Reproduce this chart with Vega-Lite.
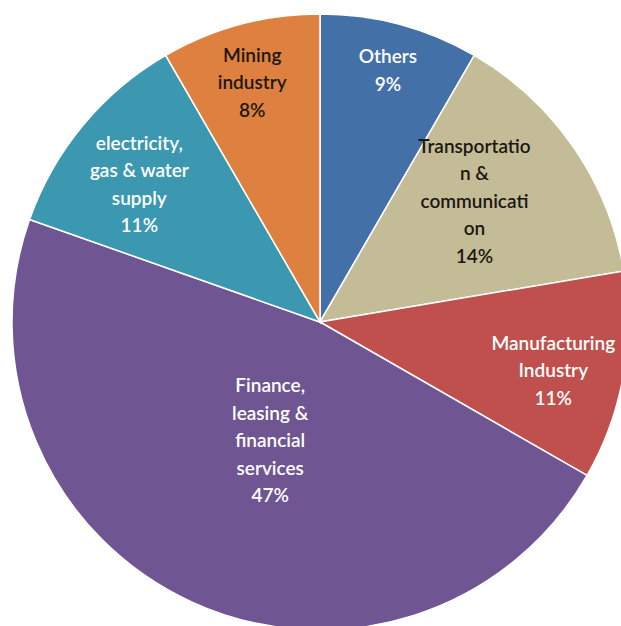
{
  "$schema": "https://vega.github.io/schema/vega-lite/v6.json",
  "width": 640,
  "height": 644,
  "autosize": {"type": "none"},
  "padding": 0,
  "background": "white",
  "view": {"stroke": null},
  "data": {
    "values": [
      {"order": 1, "category": "Others", "share": 8.35, "label": "Others\n9%"},
      {"order": 2, "category": "Transportation & communication", "share": 14.0, "label": "Transportatio\nn &\ncommunicati\non\n14%"},
      {"order": 3, "category": "Manufacturing Industry", "share": 10.95, "label": "Manufacturing\nIndustry\n11%"},
      {"order": 4, "category": "Finance, leasing & financial services", "share": 47.1, "label": "Finance,\nleasing &\nfinancial\nservices\n47%"},
      {"order": 5, "category": "electricity, gas & water supply", "share": 11.25, "label": "electricity,\ngas & water\nsupply\n11%"},
      {"order": 6, "category": "Mining industry", "share": 8.35, "label": "Mining\nindustry\n8%"}
    ]
  },
  "encoding": {
    "theta": {"field": "share", "type": "quantitative", "stack": true},
    "order": {"field": "order", "type": "quantitative"}
  },
  "layer": [
    {
      "mark": {"type": "arc", "outerRadius": 308, "stroke": "#ffffff", "strokeWidth": 1.5},
      "encoding": {
        "color": {
          "field": "category",
          "type": "nominal",
          "scale": {
            "domain": ["Others", "Transportation & communication", "Manufacturing Industry", "Finance, leasing & financial services", "electricity, gas & water supply", "Mining industry"],
            "range": ["#4470a8", "#c4bc96", "#c0504d", "#6f5591", "#3b98b0", "#de8140"]
          },
          "legend": null
        }
      }
    },
    {
      "mark": {
        "type": "text",
        "font": "Lato",
        "fontSize": 19,
        "fontWeight": 600,
        "lineHeight": 27.5,
        "lineBreak": "\n",
        "align": "center",
        "baseline": "middle",
        "radius": {"expr": "datum.order == 1 ? 262 : datum.order == 2 ? 194 : datum.order == 3 ? 237 : datum.order == 4 ? 129 : datum.order == 5 ? 227 : 250"},
        "dx": {"expr": "datum.order == 2 ? -5 : datum.order == 4 ? 4 : datum.order == 5 ? -6 : datum.order == 6 ? -3 : 0"},
        "dy": {"expr": "datum.order == 1 ? -11.75 : datum.order == 2 ? -64.5 : datum.order == 3 ? -20 : datum.order == 4 ? -53 : datum.order == 5 ? -33.25 : -25"},
        "fill": {"expr": "datum.order == 2 || datum.order == 6 ? '#1c1710' : '#ffffff'"}
      },
      "encoding": {
        "text": {"field": "label", "type": "nominal"}
      }
    }
  ]
}
